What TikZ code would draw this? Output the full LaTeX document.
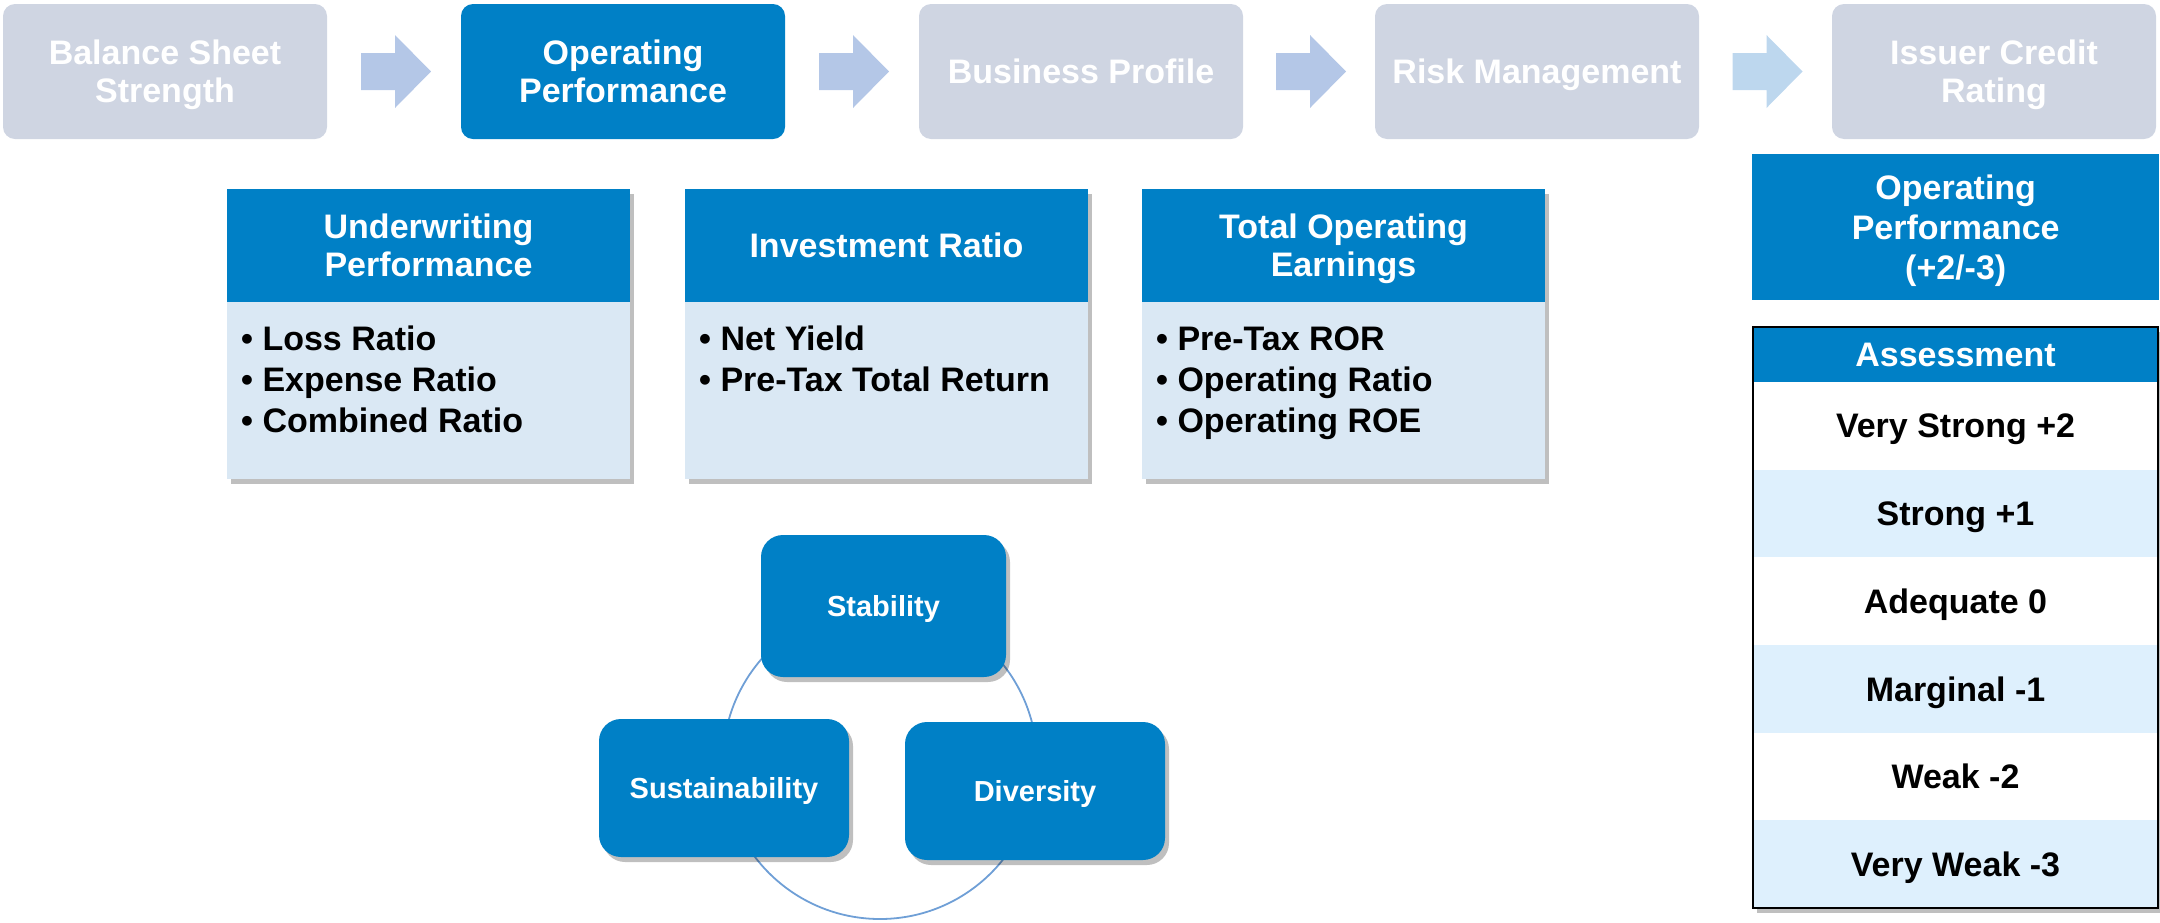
\documentclass[tikz,border=0pt]{standalone}
\usepackage{fontspec}
\setmainfont{Liberation Sans}
\usetikzlibrary{shadows,calc}
\definecolor{mblue}{HTML}{0080C6}
\definecolor{mgray}{HTML}{CFD5E2}
\definecolor{marrow}{HTML}{B4C7E7}
\definecolor{marrowb}{HTML}{BDD7EE}
\definecolor{mbody}{HTML}{DAE8F4}
\definecolor{mrow}{HTML}{DEF0FD}
\definecolor{mring}{HTML}{6F9FD6}
\newcommand\flowarrow[3]{\fill[#3] ($(#1.east)!0.5!(#2.west)$) ++(-33,-18.5) -- ++(34,0) -- ++(0,-18) -- ++(36,36.5) -- ++(-36,36.5) -- ++(0,-18) -- ++(-34,0) -- cycle;}
\begin{document}
\begin{tikzpicture}[x=1pt,y=-1pt,
  big/.style={font=\fontsize{34}{38}\selectfont\bfseries},
  mid/.style={font=\fontsize{29}{33}\selectfont\bfseries},
  shad/.style={drop shadow={shadow xshift=4pt,shadow yshift=-5pt,fill=black,opacity=0.25}},
  topbox/.style={rectangle,rounded corners=12pt,minimum width=324pt,minimum height=135pt,align=center,text=white,big,inner sep=0pt,text depth=0pt},
  graybox/.style={topbox,fill=mgray},
  bluebox/.style={topbox,fill=mblue},
  cardhead/.style={rectangle,fill=mblue,text=white,big,align=center,minimum width=403pt,minimum height=113pt,inner sep=0pt,outer sep=0pt,anchor=north west,shad,text depth=0pt},
  cardbody/.style={rectangle,fill=mbody,minimum width=403pt,minimum height=177pt,inner sep=0pt,outer sep=0pt,anchor=north west,shad},
  item/.style={anchor=base west,big,text=black,inner sep=0pt},
  pill/.style={rectangle,rounded corners=22pt,fill=mblue,text=white,mid,inner sep=0pt,shad,text depth=0pt},
  tblrow/.style={rectangle,minimum width=405pt,minimum height=87.67pt,inner sep=0pt,outer sep=0pt,anchor=north,big,text=black,text depth=0pt}
]
\useasboundingbox (0,0) rectangle (2160,922);

% top process row
\node[graybox] (bs) at (165,71.5) {Balance Sheet\\Strength};
\node[bluebox] (op) at (623,71.5) {Operating\\Performance};
\node[graybox] (bp) at (1081,71.5) {Business Profile};
\node[graybox] (rm) at (1537,71.5) {Risk Management};
\node[graybox] (ic) at (1994,71.5) {Issuer Credit\\Rating};
\flowarrow{bs}{op}{marrow}
\flowarrow{op}{bp}{marrow}
\flowarrow{bp}{rm}{marrow}
\flowarrow{rm}{ic}{marrowb}

% cards
\node[cardhead] (h1) at (227,189) {Underwriting\\Performance};
\node[cardbody] (b1) at (227,302) {};
\node[item] (b1a) at (241,350) {• Loss Ratio};
\node[item] (b1b) at (241,391) {• Expense Ratio};
\node[item] (b1c) at (241,432) {• Combined Ratio};

\node[cardhead] (h2) at (685,189) {Investment Ratio};
\node[cardbody] (b2) at (685,302) {};
\node[item] (b2a) at (699,350) {• Net Yield};
\node[item] (b2b) at (699,391) {• Pre-Tax Total Return};

\node[cardhead] (h3) at (1142,189) {Total Operating\\Earnings};
\node[cardbody] (b3) at (1142,302) {};
\node[item] (b3a) at (1156,350) {• Pre-Tax ROR};
\node[item] (b3b) at (1156,391) {• Operating Ratio};
\node[item] (b3c) at (1156,432) {• Operating ROE};

% ring of pillars
\node[circle,draw=mring,line width=1.8pt,minimum size=314pt,inner sep=0pt] (ring) at (880,762) {};
\node[pill,minimum width=245pt,minimum height=142pt] (stab) at (883.5,606) {Stability};
\node[pill,minimum width=250pt,minimum height=138pt] (sust) at (724,788) {Sustainability};
\node[pill,minimum width=260pt,minimum height=138pt] (div) at (1035,791) {Diversity};

% right column
\node[rectangle,fill=mblue,text=white,font=\fontsize{34}{40}\selectfont\bfseries,align=center,minimum width=407pt,minimum height=146pt,inner sep=0pt,anchor=north west,text depth=0pt] (opr) at (1752,154) {Operating\\Performance\\(+2/-3)};

\node[rectangle,fill=white,minimum width=405pt,minimum height=581pt,inner sep=0pt,outer sep=0pt,anchor=north west,shad] (tbl) at (1753,327) {};
\node[tblrow,fill=mblue,text=white,minimum height=55pt] (th) at (tbl.north) {Assessment};
\node[tblrow,fill=white] (r1) at (th.south) {Very Strong +2};
\node[tblrow,fill=mrow] (r2) at (r1.south) {Strong +1};
\node[tblrow,fill=white] (r3) at (r2.south) {Adequate 0};
\node[tblrow,fill=mrow] (r4) at (r3.south) {Marginal -1};
\node[tblrow,fill=white] (r5) at (r4.south) {Weak -2};
\node[tblrow,fill=mrow] (r6) at (r5.south) {Very Weak -3};
\draw[black,line width=2.6pt] (tbl.north west) rectangle (tbl.south east);
\end{tikzpicture}
\end{document}
